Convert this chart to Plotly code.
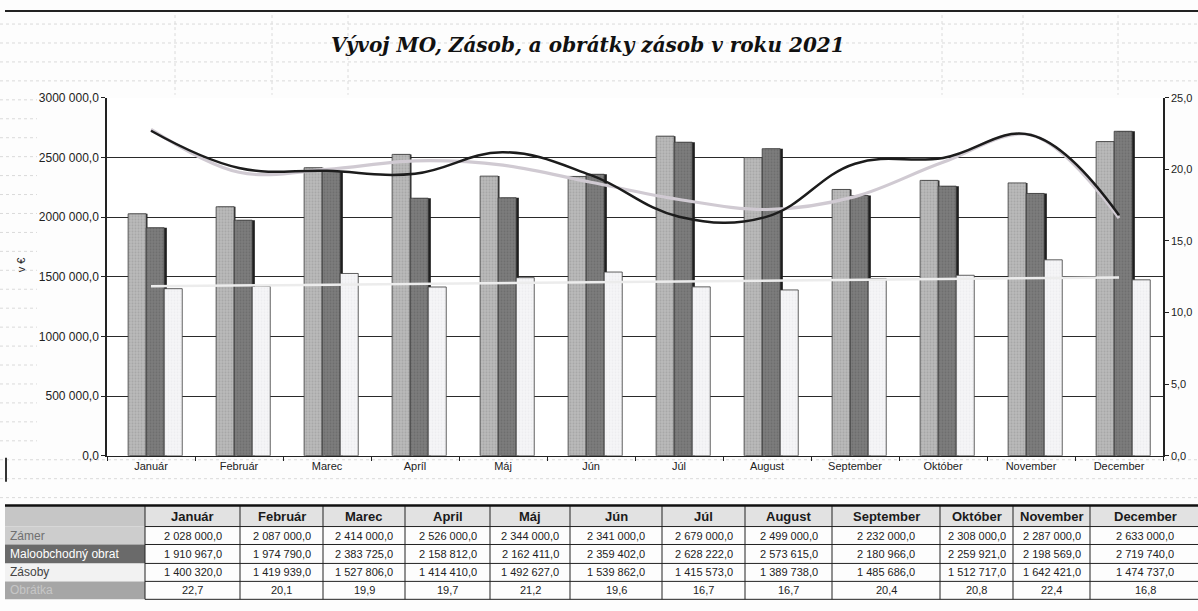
import plotly.graph_objects as go

# ---------------- data ----------------
months = ["Január", "Február", "Marec", "Apríl", "Máj", "Jún", "Júl",
          "August", "September", "Október", "November", "December"]
table_months = ["Január", "Február", "Marec", "April", "Máj", "Jún", "Júl",
                "August", "September", "Október", "November", "December"]
zamer = [2028000, 2087000, 2414000, 2526000, 2344000, 2341000, 2679000,
         2499000, 2232000, 2308000, 2287000, 2633000]
obrat = [1910967, 1974790, 2383725, 2158812, 2162411, 2359402, 2628222,
         2573615, 2180966, 2259921, 2198569, 2719740]
zasoby = [1400320, 1419939, 1527806, 1414410, 1492627, 1539862, 1415573,
          1389738, 1485686, 1512717, 1642421, 1474737]
obratka = [22.7, 20.1, 19.9, 19.7, 21.2, 19.6, 16.7, 16.7, 20.4, 20.8, 22.4, 16.8]
# light smoothed trend of obrátka
obratka_trend = [22.8, 19.8, 20.0, 20.6, 20.3, 19.1, 17.9, 17.2, 18.1, 20.5, 22.4, 16.6]
# light straight trend of zásoby (Jan and Dec ends)
zasoby_trend_x = [0, 11]
zasoby_trend = [1420000, 1495000]
row_labels = ["Zámer", "Maloobchodný obrat", "Zásoby", "Obrátka"]
y_ticks = [0, 500000, 1000000, 1500000, 2000000, 2500000, 3000000]
y_ticktext = ["0,0", "500 000,0", "1000 000,0", "1500 000,0", "2000 000,0",
              "2500 000,0", "3000 000,0"]
y2_ticks = [0, 5, 10, 15, 20, 25]
y2_ticktext = ["0,0", "5,0", "10,0", "15,0", "20,0", "25,0"]

W, H = 1198, 624
FONT = "Liberation Sans"
# target positions (pixels of the 1198x611 picture)
X0, X1, Y0, Y1 = 107, 1163, 97, 456


def px(x):
    return x / W


def py(y):
    # vertical mapping of a target picture row to the page
    return 1 - ((y - 5.9) / 0.9805) / H


xs = list(range(len(months)))
fig = go.Figure()

series = [
    (zamer, -0.26, "#bababa", "#909090", 0.02),
    (obrat, -0.055, "#7d7d7d", "#5c5c5c", 0.035),
    (zasoby, 0.15, "#f6f6f8", "#e2e2e6", 0.0),
]
for vals, off, col, pat, sh in series:
    if sh > 0:
        fig.add_trace(go.Bar(x=xs, y=vals, offset=off + sh, width=0.2,
                             marker=dict(color="#1e1e1e", line=dict(width=0)),
                             hoverinfo="skip", showlegend=False))
    fig.add_trace(go.Bar(x=xs, y=vals, offset=off, width=0.205,
                         marker=dict(color=col,
                                     line=dict(color="#3a3a3a", width=0.8),
                                     pattern=dict(shape=".", fgcolor=pat, size=3, solidity=0.35)),
                         showlegend=False))

fig.add_trace(go.Scatter(x=zasoby_trend_x, y=zasoby_trend, mode="lines",
                         line=dict(color="#ececec", width=2.5), showlegend=False))
fig.add_trace(go.Scatter(x=xs, y=obratka_trend, yaxis="y2", mode="lines",
                         line=dict(color="#d0cad2", width=3.2, shape="spline", smoothing=1.0),
                         showlegend=False))
fig.add_trace(go.Scatter(x=xs, y=obratka, yaxis="y2", mode="lines",
                         line=dict(color="#1c1c1c", width=2.5, shape="spline", smoothing=1.15),
                         showlegend=False))

# ---------------- table (shapes + text) ----------------
def fmt(v):
    return f"{v:,.1f}".replace(",", " ").replace(".", ",")


col_edges = [5, 145, 240, 323, 405, 490, 570, 662, 745, 832, 940, 1013, 1090, 1200]
row_edges = [506, 527, 545, 564, 582, 600]
cell_rows = [[fmt(v) for v in zamer], [fmt(v) for v in obrat],
             [fmt(v) for v in zasoby], [f"{v:.1f}".replace(".", ",") for v in obratka]]
label_fill = ["#cdcdcd", "#6a6a6a", "#f2f2f2", "#a6a6a6"]
label_font = ["#707070", "#ffffff", "#444444", "#c6c6c6"]

shapes = []
annotations = []


def rect(x0, y0, x1, y1, color):
    shapes.append(dict(type="rect", xref="paper", yref="paper",
                       x0=px(x0), x1=px(x1), y0=py(y1), y1=py(y0),
                       fillcolor=color, line=dict(width=0), layer="below"))


def hline(x0, x1, y, color="#222", width=1, dash="solid", layer="above"):
    shapes.append(dict(type="line", xref="paper", yref="paper", layer=layer,
                       x0=px(x0), x1=px(x1), y0=py(y), y1=py(y),
                       line=dict(color=color, width=width, dash=dash)))


def vline(x, y0, y1, color="#222", width=1, dash="solid", layer="above"):
    shapes.append(dict(type="line", xref="paper", yref="paper", layer=layer,
                       x0=px(x), x1=px(x), y0=py(y0), y1=py(y1),
                       line=dict(color=color, width=width, dash=dash)))


# faint spreadsheet grid in the background
for yy in range(23, 505, 19):
    if Y0 - 2 < yy < Y1 + 2:
        segs = [(0, X0 - 70), (X1 + 40, W)]
    else:
        segs = [(0, W)]
    for a, b in segs:
        hline(a, b, yy, color="#dadada", width=1, dash="dot", layer="below")
for xx in [175, 272, 348, 942, 1023, 1118]:
    vline(xx, 14, 94, color="#dadada", width=1, dash="dot", layer="below")

# header fills
rect(col_edges[0], row_edges[0], col_edges[1], row_edges[1], "#c6c6c6")
rect(col_edges[1], row_edges[0], col_edges[-1], row_edges[1], "#e2e2e2")
# label column fills
for r in range(4):
    rect(col_edges[0], row_edges[r + 1], col_edges[1], row_edges[r + 2], label_fill[r])
# grid lines
for y in row_edges[1:]:
    hline(col_edges[1], col_edges[-1], y, color="#222", width=1)
for x in col_edges[1:-1]:
    vline(x, row_edges[0], row_edges[-1], color="#222", width=1)
hline(col_edges[0], W, row_edges[0], color="#111", width=2.5)
# header text
for c, m in enumerate(table_months):
    cx = (col_edges[c + 1] + col_edges[c + 2]) / 2
    annotations.append(dict(text=f"<b>{m}</b>", xref="paper", yref="paper",
                            x=px(cx), y=py((row_edges[0] + row_edges[1]) / 2 + 0.5),
                            xanchor="center", yanchor="middle", showarrow=False,
                            font=dict(family=FONT, size=13, color="#1a1a1a")))
# labels and cells
for r in range(4):
    cy = py((row_edges[r + 1] + row_edges[r + 2]) / 2)
    annotations.append(dict(text=row_labels[r], xref="paper", yref="paper",
                            x=px(col_edges[0] + 3), y=cy, xanchor="left", yanchor="middle",
                            showarrow=False,
                            font=dict(family=FONT, size=12, color=label_font[r])))
    for c in range(12):
        cx = (col_edges[c + 1] + col_edges[c + 2]) / 2
        annotations.append(dict(text=cell_rows[r][c], xref="paper", yref="paper",
                                x=px(cx), y=cy, xanchor="center", yanchor="middle",
                                showarrow=False,
                                font=dict(family=FONT, size=11, color="#222")))

# borders/marks of the sheet
hline(5, W, 10, color="#222", width=2)
vline(6, 458, 482, color="#333", width=2)

annotations += [
    dict(text="<b><i>Vývoj MO, Zásob, a obrátky zásob v roku 2021</i></b>",
         xref="paper", yref="paper", x=px(588), y=py(44),
         xanchor="center", yanchor="middle", showarrow=False,
         font=dict(family="DejaVu Serif", size=20, color="#111")),
    dict(text="v €", xref="paper", yref="paper", x=px(21), y=py(265),
         textangle=-90, showarrow=False, xanchor="center", yanchor="middle",
         font=dict(family=FONT, size=11, color="#222")),
]

fig.update_layout(
    width=W, height=H, autosize=False,
    margin=dict(l=0, r=0, t=0, b=0),
    paper_bgcolor="#fdfdfd", plot_bgcolor="#ffffff",
    barmode="overlay", showlegend=False,
    font=dict(family=FONT, size=10, color="#222"),
    xaxis=dict(domain=[px(X0), px(X1)], range=[-0.5, 11.5],
               tickvals=xs, ticktext=months, ticks="", showgrid=False,
               showline=True, linecolor="#222", linewidth=1,
               tickfont=dict(family=FONT, size=11, color="#222"),
               minor=dict(tickvals=[i - 0.5 for i in range(13)], ticks="outside",
                          ticklen=4, tickcolor="#222"),
               zeroline=False),
    yaxis=dict(domain=[py(Y1), py(Y0)], range=[0, 3000000],
               tickvals=y_ticks, ticktext=y_ticktext, ticks="outside", ticklen=4,
               tickcolor="#222", showline=True, linecolor="#222", linewidth=1.5,
               showgrid=True, gridcolor="#2a2a2a", gridwidth=1.2, zeroline=False,
               tickfont=dict(family=FONT, size=12, color="#222")),
    yaxis2=dict(overlaying="y", side="right", range=[0, 25],
                tickvals=y2_ticks, ticktext=y2_ticktext, ticks="outside", ticklen=4,
                tickcolor="#222", showline=True, linecolor="#222", linewidth=1.5,
                showgrid=False, zeroline=False,
                tickfont=dict(family=FONT, size=11, color="#222")),
    shapes=shapes,
    annotations=annotations,
)

fig.write_html("out.html", config={"displayModeBar": False},
               post_script="document.body.style.margin='0px';document.body.style.overflow='hidden';")
